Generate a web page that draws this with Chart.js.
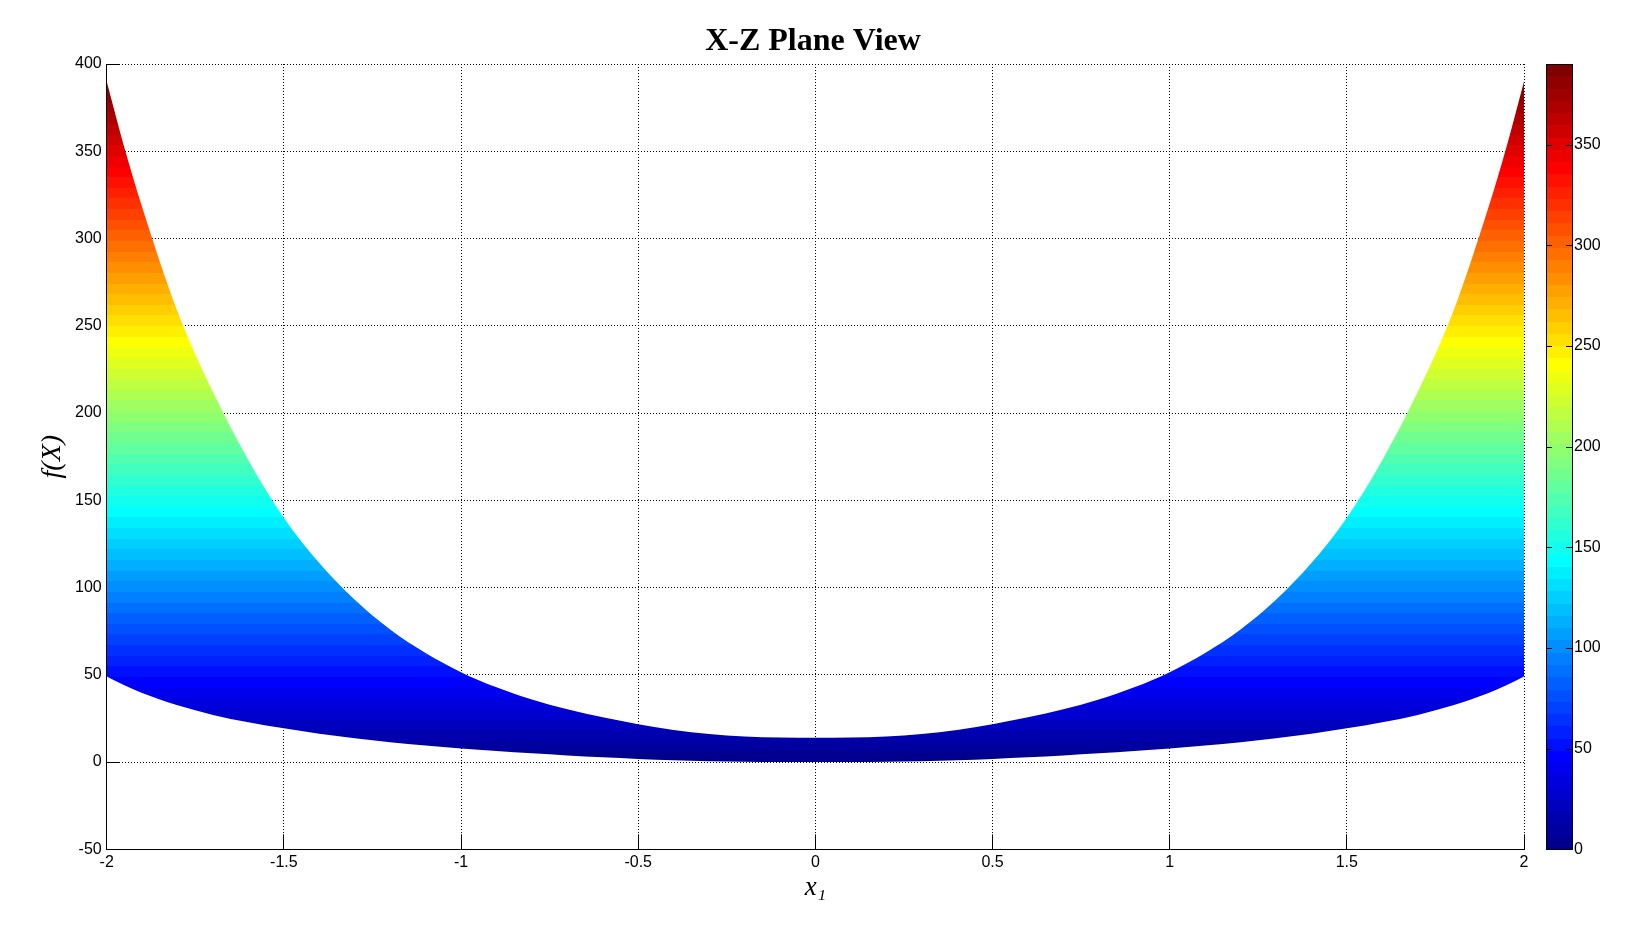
<!DOCTYPE html>
<html>
<head>
<meta charset="utf-8">
<script src="https://cdn.jsdelivr.net/npm/chart.js@4.4.1/dist/chart.umd.min.js"></script>
<style>
html,body{margin:0;padding:0;background:#fff;}
canvas{display:block;}
</style>
</head>
<body>
<canvas id="chart" width="1632" height="945"></canvas>
<script>
// ---- data ----
const titleText = 'X-Z Plane View';
const xAxisLabel = 'x\u2081';
const yAxisLabel = 'f(X)';

const x1Values = [-2, -1.95, -1.9, -1.8, -1.7, -1.6, -1.5, -1.4, -1.3, -1.2, -1.1, -1, -0.9, -0.8, -0.7, -0.6, -0.5, -0.4, -0.3, -0.2, -0.1, 0,
                  0.1, 0.2, 0.3, 0.4, 0.5, 0.6, 0.7, 0.8, 0.9, 1, 1.1, 1.2, 1.3, 1.4, 1.5, 1.6, 1.7, 1.8, 1.9, 1.95, 2];
const upperValues = [390, 352, 318, 258, 212, 173, 140, 114, 93, 76, 62.5, 51.5, 42.8, 35.8, 30.2, 25.6, 21.7, 18.4, 16.1, 14.7, 14.1, 13.9,
                     14.1, 14.7, 16.1, 18.4, 21.7, 25.6, 30.2, 35.8, 42.8, 51.5, 62.5, 76, 93, 114, 140, 173, 212, 258, 318, 352, 390];
const lowerValues = [49, 44, 39.5, 32.5, 27, 22.8, 19.3, 16.2, 13.6, 11.4, 9.5, 7.8, 6.3, 5.0, 3.8, 2.7, 1.8, 1.0, 0.5, 0.2, 0.05, 0,
                     0.05, 0.2, 0.5, 1.0, 1.8, 2.7, 3.8, 5.0, 6.3, 7.8, 9.5, 11.4, 13.6, 16.2, 19.3, 22.8, 27, 32.5, 39.5, 44, 49];

const xTickValues = [-2, -1.5, -1, -0.5, 0, 0.5, 1, 1.5, 2];
const yTickValues = [-50, 0, 50, 100, 150, 200, 250, 300, 350, 400];
const colorbarTickValues = [0, 50, 100, 150, 200, 250, 300, 350];

// ---- colour range (MATLAB clim) ----
const cMin = Math.min(...lowerValues);
const cMax = Math.max(...upperValues);

// MATLAB jet(64)
function jet64(k) {
  const n = 16, u = [];
  for (let i = 1; i <= n; i++) u.push(i / n);
  for (let i = 0; i < n - 1; i++) u.push(1);
  for (let i = n; i >= 1; i--) u.push(i / n);
  const get = j => (j >= 1 && j <= u.length) ? u[j - 1] : 0;
  const K = k + 1;
  return [get(K - 24), get(K - 8), get(K + 8)];
}
function rgb(c) { return 'rgb(' + c.map(v => Math.round(v * 255)).join(',') + ')'; }

function jetGradient(ctx, yLow, yHigh) {
  const g = ctx.createLinearGradient(0, yLow, 0, yHigh);
  for (let i = 0; i < 64; i++) {
    const col = rgb(jet64(i));
    g.addColorStop(i / 64, col);
    g.addColorStop((i + 1) / 64 - 1e-6, col);
  }
  return g;
}

function fillGradient(context) {
  const chart = context.chart;
  if (!chart.chartArea || !chart.scales.y) return 'rgb(0,0,255)';
  const y = chart.scales.y;
  return jetGradient(chart.ctx, y.getPixelForValue(cMin), y.getPixelForValue(cMax));
}

const colorbarPlugin = {
  id: 'colorbar',
  afterDraw(chart) {
    const s = chart.scales.cb;
    const ca = chart.chartArea;
    const ctx = chart.ctx;
    const x0 = Math.round(ca.right + 22);
    const w = 27;
    const yTop = Math.round(s.getPixelForValue(s.max));
    const yBot = Math.round(s.getPixelForValue(s.min));
    ctx.save();
    ctx.fillStyle = jetGradient(ctx, yBot, yTop);
    ctx.fillRect(x0, yTop, w, yBot - yTop);
    ctx.strokeStyle = '#000';
    ctx.lineWidth = 1;
    ctx.strokeRect(x0 + 0.5, yTop + 0.5, w - 1, yBot - yTop);
    ctx.beginPath();
    s.ticks.forEach(t => {
      const y = Math.round(s.getPixelForValue(t.value)) + 0.5;
      ctx.moveTo(x0, y); ctx.lineTo(x0 + 6, y);
      ctx.moveTo(x0 + w - 7, y); ctx.lineTo(x0 + w, y);
    });
    ctx.stroke();
    ctx.restore();
  }
};

const sansFont = '"Liberation Sans", Arial, Helvetica, sans-serif';
const serifFont = '"Liberation Serif", "Times New Roman", Times, serif';

new Chart(document.getElementById('chart'), {
  type: 'line',
  data: {
    datasets: [
      {
        label: 'upper',
        data: x1Values.map((x, i) => ({ x: x, y: upperValues[i] })),
        fill: '+1',
        backgroundColor: fillGradient,
        borderColor: 'rgba(0,0,0,0)',
        borderWidth: 0,
        pointRadius: 0,
        cubicInterpolationMode: 'monotone'
      },
      {
        label: 'lower',
        data: x1Values.map((x, i) => ({ x: x, y: lowerValues[i] })),
        fill: false,
        borderColor: 'rgba(0,0,0,0)',
        borderWidth: 0,
        pointRadius: 0,
        cubicInterpolationMode: 'monotone'
      }
    ]
  },
  options: {
    responsive: false,
    animation: false,
    events: [],
    layout: { padding: { left: 0, right: 6, top: 0, bottom: 25.7 } },
    plugins: {
      legend: { display: false },
      tooltip: { enabled: false },
      title: {
        display: true,
        text: titleText,
        color: '#000',
        font: { family: serifFont, size: 32, weight: 'bold' },
        padding: { top: 22.5, bottom: 3.1 }
      }
    },
    scales: {
      x: {
        type: 'linear',
        position: 'bottom',
        min: -2, max: 2,
        afterBuildTicks: s => { s.ticks = xTickValues.map(v => ({ value: v })); },
        afterFit: s => { s.height = 70; },
        grid: { color: '#000', lineWidth: 1, drawTicks: true, tickLength: -15, tickColor: '#000', tickWidth: 1 },
        border: { display: true, color: '#000', width: 1, dash: [1, 2] },
        ticks: {
          color: '#000', padding: 18.3, maxRotation: 0, autoSkip: false,
          font: { family: sansFont, size: 16 },
          callback: v => String(v)
        },
        title: {
          display: true, text: xAxisLabel, color: '#000',
          font: { family: serifFont, size: 27, style: 'italic' },
          padding: { top: 0, bottom: 15.5 }
        }
      },
      y: {
        type: 'linear',
        position: 'left',
        min: -50, max: 400,
        afterBuildTicks: s => { s.ticks = yTickValues.map(v => ({ value: v })); },
        afterFit: s => { s.width = 106.7; },
        grid: { color: '#000', lineWidth: 1, drawTicks: true, tickLength: -13, tickColor: '#000', tickWidth: 1 },
        border: { display: true, color: '#000', width: 1, dash: [1, 2] },
        ticks: {
          color: '#000', padding: 18,
          font: { family: sansFont, size: 16 },
          callback: v => String(v)
        },
        title: {
          display: true, text: yAxisLabel, color: '#000',
          font: { family: serifFont, size: 28, style: 'italic' },
          padding: { top: 36.2, bottom: 0 }
        }
      },
      cb: {
        type: 'linear',
        position: 'right',
        min: cMin, max: cMax,
        afterBuildTicks: s => { s.ticks = colorbarTickValues.map(v => ({ value: v })); },
        afterFit: s => { s.width = 102; },
        grid: { drawOnChartArea: false, drawTicks: false },
        border: { display: false },
        ticks: {
          color: '#000', padding: 50,
          font: { family: sansFont, size: 16 },
          callback: v => String(v)
        }
      }
    }
  },
  plugins: [colorbarPlugin]
});
</script>
</body>
</html>
